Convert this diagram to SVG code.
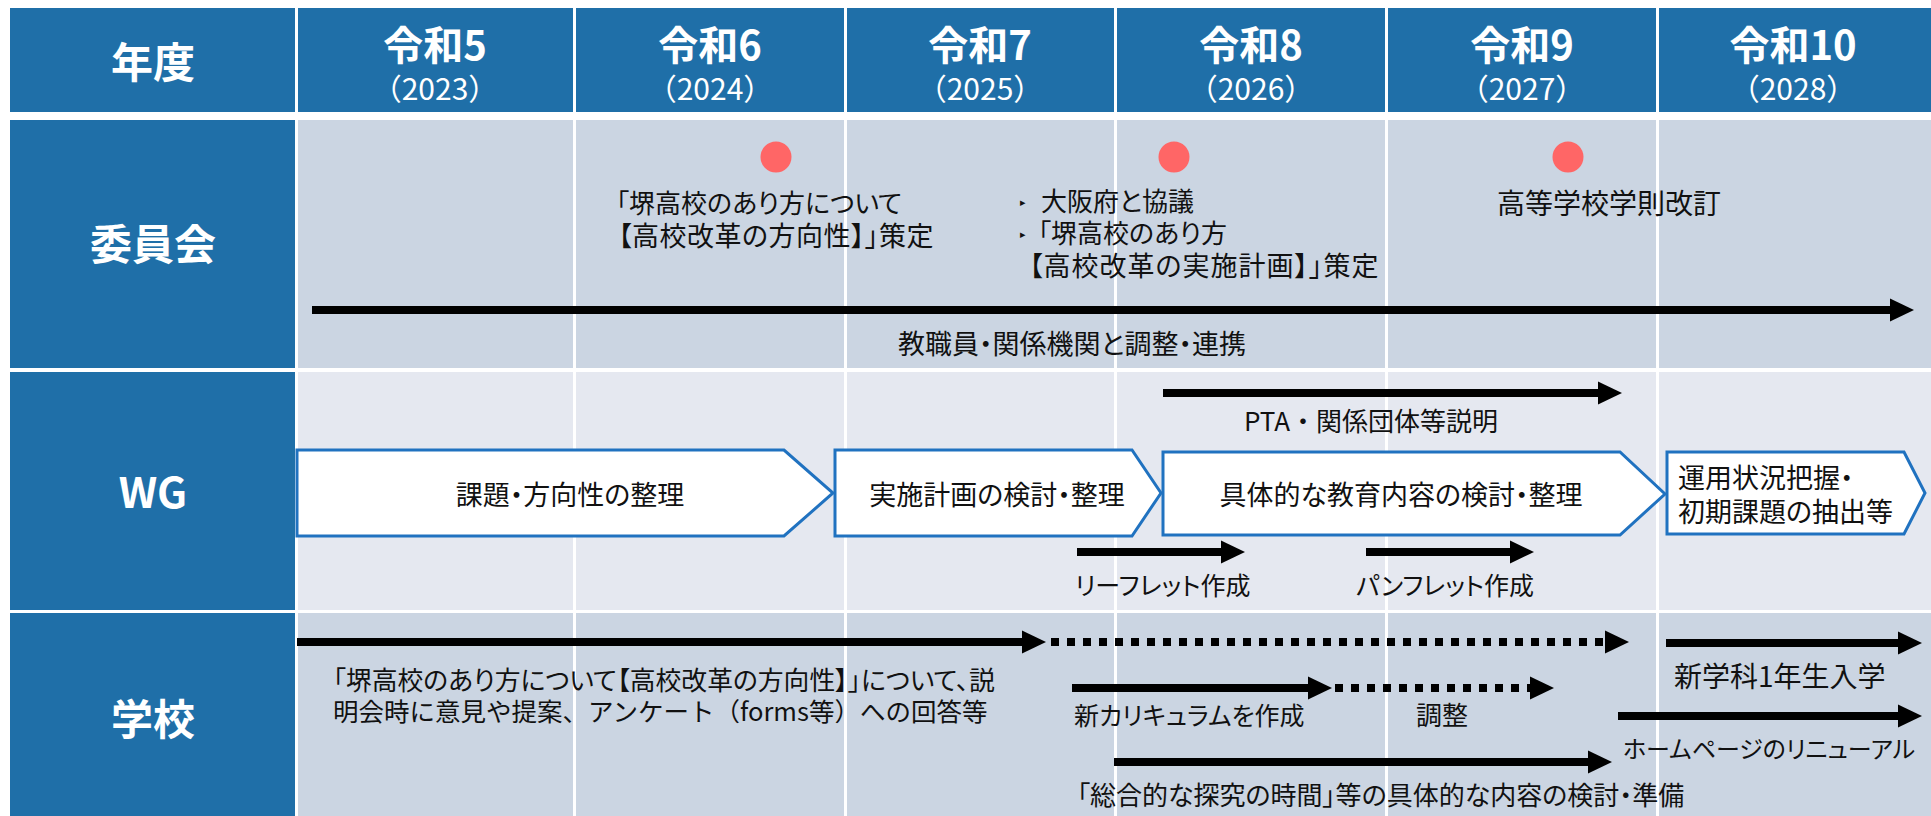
<svg xmlns="http://www.w3.org/2000/svg" width="1931" height="816" viewBox="0 0 1931 816">
<style>
  text { font-family: "Noto Sans CJK JP", "Noto Sans", sans-serif; fill: #111; }
  .p { font-feature-settings: "palt" 1; }
  .hdr { fill: #1F6FA8; }
  .lab { font-weight: bold; fill: #fff; text-anchor: middle; }
  .yr { font-weight: bold; font-size: 40px; fill: #fff; text-anchor: middle; }
  .ys { font-size: 30px; fill: #fff; text-anchor: middle; }
  .r1 { fill: #CBD5E2; }
  .r2 { fill: #E5E8F0; }
  .sep { fill: #fff; }
  .chev { fill: #fff; stroke: #2072C0; stroke-width: 3; stroke-linejoin: miter; }
  .ln { stroke: #000; stroke-width: 8; fill: none; }
  .dot { stroke: #000; stroke-width: 8; fill: none; stroke-dasharray: 8 8; }
  .dotr { fill: #FF6666; }
  .c { text-anchor: middle; }
  .bul { font-family: "DejaVu Sans", sans-serif; font-size: 11px; }
</style>
<defs>
  <marker id="ah" markerUnits="userSpaceOnUse" markerWidth="26" markerHeight="24" viewBox="0 0 26 24" refX="0" refY="12" orient="auto">
    <path d="M0,0.5 L24,12 L0,23.5 z" fill="#000"/>
  </marker>
</defs>
<rect width="1931" height="816" fill="#fff"/>

<!-- header -->
<g id="header">
  <rect class="hdr" x="10" y="8" width="285" height="104"/>
  <text class="lab" x="153" y="78" font-size="42">年度</text>
  <rect class="hdr" x="298" y="8" width="275" height="104"/>
  <rect class="hdr" x="576" y="8" width="268" height="104"/>
  <rect class="hdr" x="847" y="8" width="267" height="104"/>
  <rect class="hdr" x="1117" y="8" width="268" height="104"/>
  <rect class="hdr" x="1388" y="8" width="268" height="104"/>
  <rect class="hdr" x="1659" y="8" width="272" height="104"/>
</g>
<g id="year-r5"><text class="yr" x="435" y="60">令和5</text><text class="ys" x="435" y="100">（2023）</text></g>
<g id="year-r6"><text class="yr" x="710" y="60">令和6</text><text class="ys" x="710" y="100">（2024）</text></g>
<g id="year-r7"><text class="yr" x="980" y="60">令和7</text><text class="ys" x="980" y="100">（2025）</text></g>
<g id="year-r8"><text class="yr" x="1251" y="60">令和8</text><text class="ys" x="1251" y="100">（2026）</text></g>
<g id="year-r9"><text class="yr" x="1522" y="60">令和9</text><text class="ys" x="1522" y="100">（2027）</text></g>
<g id="year-r10"><text class="yr" x="1793" y="60">令和10</text><text class="ys" x="1793" y="100">（2028）</text></g>

<!-- rows -->
<g id="rows">
  <rect class="r1" x="298" y="120" width="1633" height="248"/>
  <rect class="r2" x="298" y="372" width="1633" height="238"/>
  <rect class="r1" x="298" y="613" width="1633" height="203"/>
  <rect class="sep" x="573" y="120" width="3" height="696"/>
  <rect class="sep" x="844" y="120" width="3" height="696"/>
  <rect class="sep" x="1114" y="120" width="3" height="696"/>
  <rect class="sep" x="1385" y="120" width="3" height="696"/>
  <rect class="sep" x="1656" y="120" width="3" height="696"/>
</g>
<g id="label-iinkai"><rect class="hdr" x="10" y="120" width="285" height="248"/><text class="lab" x="153" y="260" font-size="42">委員会</text></g>
<g id="label-wg"><rect class="hdr" x="10" y="372" width="285" height="238"/><text class="lab" x="153" y="508" font-size="42">WG</text></g>
<g id="label-school"><rect class="hdr" x="10" y="613" width="285" height="203"/><text class="lab" x="153" y="735" font-size="42">学校</text></g>

<!-- 委員会 row -->
<g id="dot1"><circle class="dotr" cx="776" cy="157" r="15.5"/></g>
<g id="dot2"><circle class="dotr" cx="1174" cy="157" r="15.5"/></g>
<g id="dot3"><circle class="dotr" cx="1568" cy="157" r="15.5"/></g>
<g id="note-houkousei">
  <text class="p" x="616" y="213" font-size="26">「堺高校のあり方について</text>
  <text class="p" x="618" y="246" font-size="27" letter-spacing="0.5">【高校改革の方向性】」策定</text>
</g>
<g id="note-jisshi">
  <text class="bul" x="1020" y="206">▸</text>
  <text class="p" x="1041" y="211" font-size="26">大阪府と協議</text>
  <text class="bul" x="1020" y="238">▸</text>
  <text class="p" x="1038" y="243" font-size="26">「堺高校のあり方</text>
  <text class="p" x="1029" y="276" font-size="27" letter-spacing="1">【高校改革の実施計画】」策定</text>
</g>
<g id="note-gakusoku"><text x="1497" y="214" font-size="28">高等学校学則改訂</text></g>
<g id="note-renkei"><text class="c p" x="1072" y="354" font-size="27">教職員・関係機関と調整・連携</text></g>

<!-- WG row -->
<g id="wg-1"><polygon class="chev" points="297,450 784,450 833,493 784,536 297,536"/><text class="c p" x="570" y="505" font-size="27">課題・方向性の整理</text></g>
<g id="wg-2"><polygon class="chev" points="835,450 1132,450 1161,493 1132,536 835,536"/><text class="c p" x="997" y="505" font-size="27">実施計画の検討・整理</text></g>
<g id="wg-3"><polygon class="chev" points="1163,452 1620,452 1665,494 1620,535 1163,535"/><text class="c p" x="1401" y="505" font-size="27">具体的な教育内容の検討・整理</text></g>
<g id="wg-4"><polygon class="chev" points="1667,452 1904,452 1925,493 1904,534 1667,534"/><text class="p" x="1678" y="488" font-size="27">運用状況把握・</text><text class="p" x="1678" y="522" font-size="27">初期課題の抽出等</text></g>
<g id="note-pta"><text class="c" x="1371" y="431" font-size="26">PTA・関係団体等説明</text></g>
<g id="note-leaflet"><text class="p" x="1075" y="595" font-size="25">リーフレット作成</text></g>
<g id="note-pamphlet"><text class="p" x="1356" y="595" font-size="25">パンフレット作成</text></g>

<!-- 学校 row -->
<g id="note-iken">
  <text class="p" x="333" y="690" font-size="25.8">「堺高校のあり方について【高校改革の方向性】」について、説</text>
  <text x="333" y="721" font-size="25.5">明会時に意見や提案、アンケート（forms等）への回答等</text>
</g>
<g id="note-nyugaku"><text x="1674" y="687" font-size="28">新学科1年生入学</text></g>
<g id="note-curri"><text class="p" x="1074" y="725" font-size="25">新カリキュラムを作成</text></g>
<g id="note-chosei"><text x="1416" y="725" font-size="26">調整</text></g>
<g id="note-hp"><text class="p" x="1623" y="758" font-size="24">ホームページのリニューアル</text></g>
<g id="note-sogo"><text class="p" x="1077" y="805" font-size="26">「総合的な探究の時間」等の具体的な内容の検討・準備</text></g>

<!-- connectors -->
<g id="connectors">
  <line class="ln" x1="312" y1="310" x2="1890" y2="310" marker-end="url(#ah)"/>
  <line class="ln" x1="1163" y1="393" x2="1598" y2="393" marker-end="url(#ah)"/>
  <line class="ln" x1="1077" y1="552" x2="1221" y2="552" marker-end="url(#ah)"/>
  <line class="ln" x1="1366" y1="552" x2="1510" y2="552" marker-end="url(#ah)"/>
  <line class="ln" x1="297" y1="642" x2="1022" y2="642" marker-end="url(#ah)"/>
  <line class="dot" x1="1051" y1="642" x2="1605" y2="642" marker-end="url(#ah)"/>
  <line class="ln" x1="1666" y1="643" x2="1898" y2="643" marker-end="url(#ah)"/>
  <line class="ln" x1="1072" y1="688" x2="1308" y2="688" marker-end="url(#ah)"/>
  <line class="dot" x1="1335" y1="688" x2="1530" y2="688" marker-end="url(#ah)"/>
  <line class="ln" x1="1618" y1="716" x2="1898" y2="716" marker-end="url(#ah)"/>
  <line class="ln" x1="1114" y1="762" x2="1588" y2="762" marker-end="url(#ah)"/>
</g>
</svg>
